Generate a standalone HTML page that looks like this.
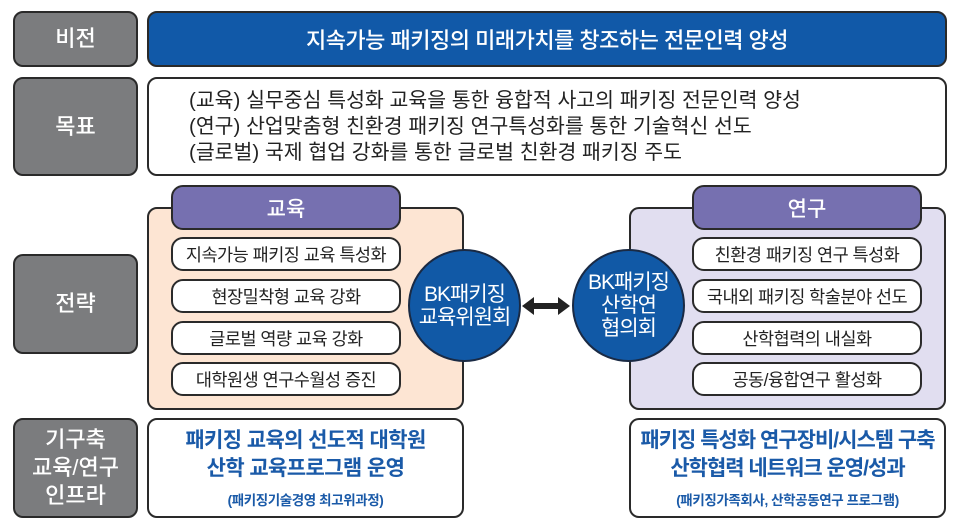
<!DOCTYPE html>
<html><head><meta charset="utf-8"><style>
*{margin:0;padding:0;box-sizing:border-box}
body{width:960px;height:527px;background:#fff;position:relative;overflow:hidden;font-family:"Liberation Sans","Noto Sans CJK KR",sans-serif}
.b{position:absolute;border:2px solid #2a2a2a;border-radius:10px;display:flex;align-items:center;justify-content:center;text-align:center}
.lab{left:13px;width:125px;background:#7b7c7e;color:#fff;font-size:22px;line-height:28px;font-weight:500}
.item{background:#fff;font-size:17.5px;color:#222;border-radius:12px;height:34px;width:230px;letter-spacing:-0.5px}
.tab{background:#7670b0;color:#fff;font-size:21px;font-weight:500;height:45px;width:230px;top:185px;border-radius:12px}
.circ{position:absolute;width:113px;height:113px;border-radius:50%;background:#1159a6;border:2px solid #1a2a44;color:#fff;font-size:21px;line-height:23px;display:flex;align-items:center;justify-content:center;text-align:center;letter-spacing:-1px;top:249px}
.blue{color:#1a5aa8;font-weight:bold;font-size:21px;line-height:28px;letter-spacing:-0.6px}
.small{color:#1a5aa8;font-size:13.5px;font-weight:bold;margin-top:6px;letter-spacing:-0.4px}
</style></head><body>
<div class="b lab" style="top:11px;height:56px">비전</div>
<div class="b" style="left:147px;top:11px;width:800px;height:56px;background:#1159a8;color:#fff;font-size:22px;font-weight:500;letter-spacing:-0.5px">지속가능 패키징의 미래가치를 창조하는 전문인력 양성</div>
<div class="b lab" style="top:77px;height:99px">목표</div>
<div class="b" style="left:147px;top:77px;width:800px;height:99px;background:#fff;justify-content:flex-start;padding-left:40px;text-align:left;font-size:20.5px;line-height:26px;color:#222">
<div>(교육) 실무중심 특성화 교육을 통한 융합적 사고의 패키징 전문인력 양성<br>(연구) 산업맞춤형 친환경 패키징 연구특성화를 통한 기술혁신 선도<br>(글로벌) 국제 협업 강화를 통한 글로벌 친환경 패키징 주도</div></div>
<div class="b lab" style="top:254px;height:100px">전략</div>
<div class="b" style="left:147px;top:207px;width:317px;height:203px;background:#fde5d3"></div>
<div class="b" style="left:629px;top:207px;width:317px;height:203px;background:#e1def0"></div>
<div class="b tab" style="left:171px">교육</div>
<div class="b tab" style="left:692px">연구</div>
<div class="b item" style="left:171px;top:237px">지속가능 패키징 교육 특성화</div>
<div class="b item" style="left:171px;top:279px">현장밀착형 교육 강화</div>
<div class="b item" style="left:171px;top:321px">글로벌 역량 교육 강화</div>
<div class="b item" style="left:171px;top:362px">대학원생 연구수월성 증진</div>
<div class="b item" style="left:692px;top:237px">친환경 패키징 연구 특성화</div>
<div class="b item" style="left:692px;top:279px">국내외 패키징 학술분야 선도</div>
<div class="b item" style="left:692px;top:321px">산학협력의 내실화</div>
<div class="b item" style="left:692px;top:362px">공동/융합연구 활성화</div>
<div class="circ" style="left:408px">BK패키징<br>교육위원회</div>
<div class="circ" style="left:572px">BK패키징<br>산학연<br>협의회</div>
<svg style="position:absolute;left:520px;top:295px" width="52" height="22"><polygon points="2,11 14,2 14,8 38,8 38,2 50,11 38,20 38,14 14,14 14,20" fill="#222"/></svg>
<div class="b lab" style="top:418px;height:100px;line-height:28px">기구축<br>교육/연구<br>인프라</div>
<div class="b" style="left:147px;top:418px;width:317px;height:100px;background:#fff;flex-direction:column"><div class="blue">패키징 교육의 선도적 대학원<br>산학 교육프로그램 운영</div><div class="small">(패키징기술경영 최고위과정)</div></div>
<div class="b" style="left:629px;top:418px;width:317px;height:100px;background:#fff;flex-direction:column"><div class="blue" style="letter-spacing:-1px">패키징 특성화 연구장비/시스템 구축<br>산학협력 네트워크 운영/성과</div><div class="small">(패키징가족회사, 산학공동연구 프로그램)</div></div>
</body></html>
